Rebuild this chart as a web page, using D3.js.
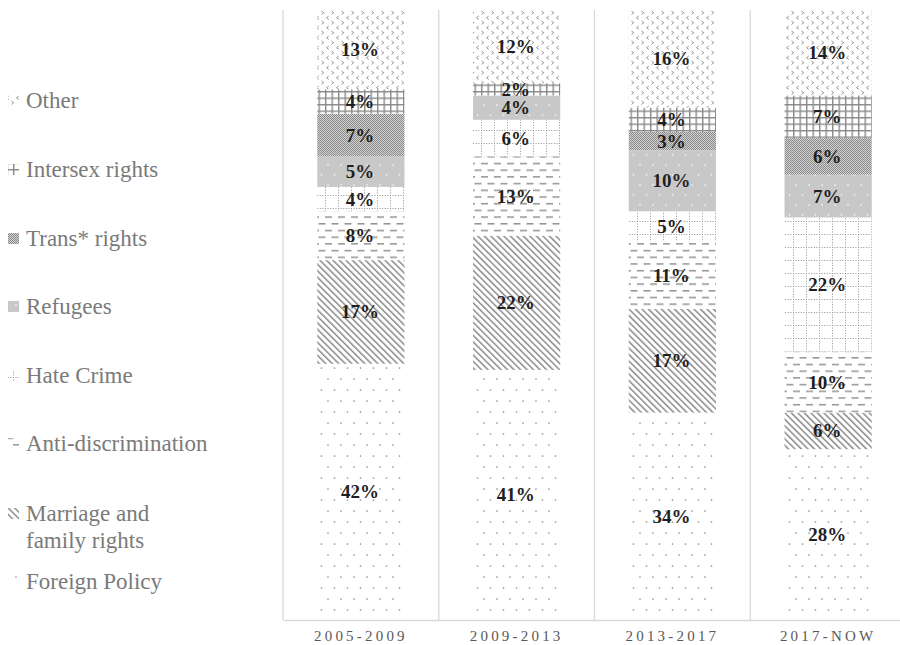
<!DOCTYPE html>
<html><head><meta charset="utf-8">
<script src="https://cdn.jsdelivr.net/npm/d3@7"></script>
<style>html,body{margin:0;padding:0;background:#fff;}svg{display:block;}</style>
</head><body>
<svg id="chart" width="900" height="645"></svg>
<script>
const categories = ["2005-2009", "2009-2013", "2013-2017", "2017-NOW"];
const seriesNames = ["Foreign Policy", "Marriage and family rights", "Anti-discrimination", "Hate Crime", "Refugees", "Trans* rights", "Intersex rights", "Other"];
const foreignPolicy = [42, 41, 34, 28];
const marriageFamily = [17, 22, 17, 6];
const antiDiscrimination = [8, 13, 11, 10];
const hateCrime = [4, 6, 5, 22];
const refugees = [5, 4, 10, 7];
const transRights = [7, 0, 3, 6];
const intersexRights = [4, 2, 4, 7];
const other = [13, 12, 16, 14];
const seriesValues = [foreignPolicy, marriageFamily, antiDiscrimination, hateCrime, refugees, transRights, intersexRights, other];
const patternIds = ["p-foreign", "p-marriage", "p-anti", "p-hate", "p-refugees", "p-trans", "p-intersex", "p-other"];
const SERIF = "'Liberation Serif', 'Times New Roman', Times, serif";

const svg = d3.select("#chart");
const defs = svg.append("defs");

function pat(id, w, h) {
  return defs.append("pattern").attr("id", id).attr("patternUnits", "userSpaceOnUse")
    .attr("width", w).attr("height", h);
}
// Foreign policy: sparse grey dots
{
  const p = pat("p-foreign", 13, 22);
  p.append("rect").attr("width", 13).attr("height", 22).attr("fill", "#fff");
  p.append("circle").attr("cx", 3).attr("cy", 5).attr("r", 0.85).attr("fill", "#8f8f8f");
  p.append("circle").attr("cx", 9.5).attr("cy", 16).attr("r", 0.85).attr("fill", "#8f8f8f");
}
// Marriage: diagonal lines
{
  const p = pat("p-marriage", 4.6, 10).attr("patternTransform", "rotate(-45)");
  p.append("rect").attr("width", 4.6).attr("height", 10).attr("fill", "#fff");
  p.append("rect").attr("x", 0).attr("width", 1.5).attr("height", 10).attr("fill", "#8a8a8a");
}
// Anti-discrimination: offset dashes
{
  const p = pat("p-anti", 13, 13.4);
  p.append("rect").attr("width", 13).attr("height", 13.4).attr("fill", "#fff");
  p.append("rect").attr("x", 0).attr("y", 2).attr("width", 7).attr("height", 1.4).attr("fill", "#8c8c8c");
  p.append("rect").attr("x", 6.5).attr("y", 8.7).attr("width", 7).attr("height", 1.4).attr("fill", "#8c8c8c");
  p.append("rect").attr("x", -6.5).attr("y", 8.7).attr("width", 7).attr("height", 1.4).attr("fill", "#8c8c8c");
}
// Hate crime: dotted grid
{
  const p = pat("p-hate", 13, 13);
  p.append("rect").attr("width", 13).attr("height", 13).attr("fill", "#fff");
  p.append("line").attr("x1", 0).attr("x2", 13).attr("y1", 0.5).attr("y2", 0.5)
    .attr("stroke", "#8f8f8f").attr("stroke-width", 1).attr("stroke-dasharray", "1,1.6");
  p.append("line").attr("x1", 0.5).attr("x2", 0.5).attr("y1", 0).attr("y2", 13)
    .attr("stroke", "#8f8f8f").attr("stroke-width", 1).attr("stroke-dasharray", "1,1.6");
}
// Refugees: grey with white dots
{
  const p = pat("p-refugees", 13, 20);
  p.append("rect").attr("width", 13).attr("height", 20).attr("fill", "#c8c8c8");
  p.append("circle").attr("cx", 3).attr("cy", 5).attr("r", 0.8).attr("fill", "#fff");
  p.append("circle").attr("cx", 9.5).attr("cy", 15).attr("r", 0.8).attr("fill", "#fff");
}
// Trans: fine checker
{
  const p = pat("p-trans", 2, 2);
  p.append("rect").attr("width", 2).attr("height", 2).attr("fill", "#d2d2d2");
  p.append("rect").attr("width", 1).attr("height", 1).attr("fill", "#8a8a8a");
  p.append("rect").attr("x", 1).attr("y", 1).attr("width", 1).attr("height", 1).attr("fill", "#8a8a8a");
}
// Intersex: grid
{
  const p = pat("p-intersex", 6.5, 6.5);
  p.append("rect").attr("width", 6.5).attr("height", 6.5).attr("fill", "#fff");
  p.append("rect").attr("x", 0).attr("y", 0).attr("width", 6.5).attr("height", 1.4).attr("fill", "#8a8a8a");
  p.append("rect").attr("x", 0).attr("y", 0).attr("width", 1.4).attr("height", 6.5).attr("fill", "#8a8a8a");
}
// Other: chevrons
{
  const p = pat("p-other", 10, 10);
  p.append("rect").attr("width", 10).attr("height", 10).attr("fill", "#fff");
  p.append("path").attr("d", "M1.5,1 L3.8,2.7 L1.5,4.4").attr("fill", "none").attr("stroke", "#8a8a8a").attr("stroke-width", 0.9);
  p.append("path").attr("d", "M8.8,6 L6.5,7.7 L8.8,9.4").attr("fill", "none").attr("stroke", "#8a8a8a").attr("stroke-width", 0.9);
}

// Scales
const x = d3.scaleBand().domain(categories).range([283, 906]).padding(0);
const y = d3.scaleLinear().domain([0, 100]).range([620, 10]);
const barW = x.bandwidth() * 0.56;

// Gridlines
const bounds = categories.map(c => x(c)).concat([x(categories[categories.length - 1]) + x.bandwidth()]);
svg.append("g").selectAll("line").data(bounds).join("line")
  .attr("x1", d => d).attr("x2", d => d).attr("y1", y(100)).attr("y2", y(0))
  .attr("stroke", "#d9d9d9").attr("stroke-width", 1.3);

// Stack
const rows = categories.map((c, i) => {
  const r = { cat: c };
  seriesNames.forEach((s, j) => r[s] = seriesValues[j][i]);
  return r;
});
const stacked = d3.stack().keys(seriesNames)(rows);

const gBars = svg.append("g");
stacked.forEach((layer, j) => {
  gBars.append("g").selectAll("rect").data(layer.filter(d => d[1] - d[0] > 0)).join("rect")
    .attr("x", d => x(d.data.cat) + (x.bandwidth() - barW) / 2)
    .attr("width", barW)
    .attr("y", d => y(d[1]))
    .attr("height", d => y(d[0]) - y(d[1]))
    .attr("fill", `url(#${patternIds[j]})`);
});
// labels
stacked.forEach((layer, j) => {
  gBars.append("g").selectAll("text").data(layer.filter(d => d[1] - d[0] > 0)).join("text")
    .attr("x", d => x(d.data.cat) + x.bandwidth() / 2 - 1)
    .attr("y", d => (y(d[0]) + y(d[1])) / 2 + 6.5)
    .attr("text-anchor", "middle")
    .style("font-family", SERIF)
    .attr("font-weight", "bold")
    .attr("font-size", 19)
    .attr("fill", "#1f1f1f")
    .text(d => (d[1] - d[0]) + "%");
});

// Axis
const axis = svg.append("g").attr("transform", `translate(0,${y(0)})`).call(d3.axisBottom(x).tickSize(0).tickPadding(10));
axis.select(".domain").attr("stroke", "#d9d9d9").attr("stroke-width", 1.3);
axis.selectAll("text").style("font-family", SERIF).attr("font-size", 15)
  .attr("fill", "#595959").attr("letter-spacing", "3.2px");

// Legend
const legendItems = [
  { j: 7, lines: ["Other"], cy: 100 },
  { j: 6, lines: ["Intersex rights"], cy: 169 },
  { j: 5, lines: ["Trans* rights"], cy: 238 },
  { j: 4, lines: ["Refugees"], cy: 306 },
  { j: 3, lines: ["Hate Crime"], cy: 375 },
  { j: 2, lines: ["Anti-discrimination"], cy: 443 },
  { j: 1, lines: ["Marriage and", "family rights"], cy: 513 },
  { j: 0, lines: ["Foreign Policy"], cy: 581 }
];
const lg = svg.append("g").selectAll("g").data(legendItems).join("g");
lg.append("rect").attr("x", 8).attr("y", d => d.cy - 5).attr("width", 11).attr("height", 11)
  .attr("fill", d => `url(#${patternIds[d.j]})`);
lg.append("text").style("font-family", SERIF).attr("font-size", 23).attr("fill", "#7a7a7a")
  .selectAll("tspan").data(d => d.lines.map((t, k) => ({ t, k, cy: d.cy }))).join("tspan")
  .attr("x", 26).attr("y", d => d.cy + 7.5 + d.k * 27).text(d => d.t);
</script>
</body></html>
